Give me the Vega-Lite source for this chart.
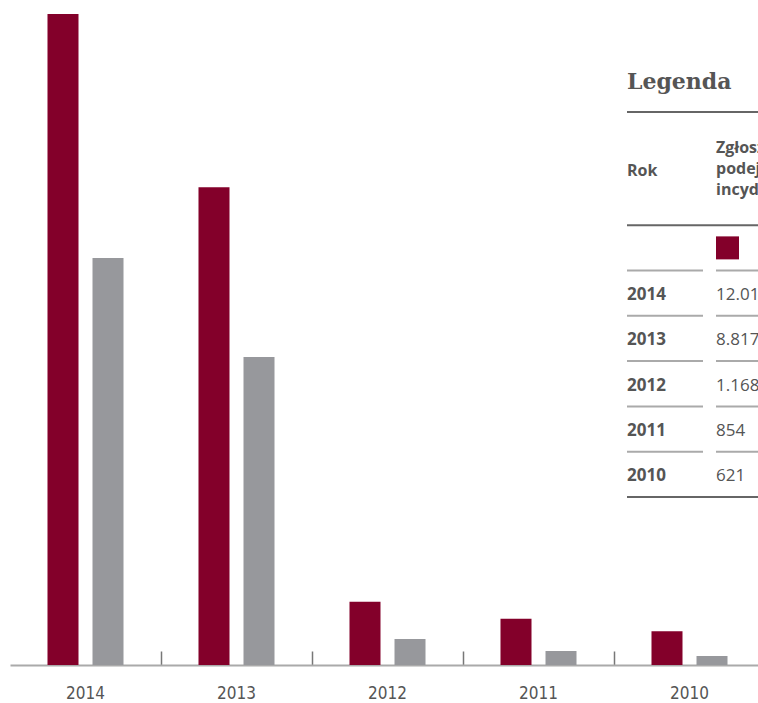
{
  "$schema": "https://vega.github.io/schema/vega-lite/v6.json",
  "width": 748,
  "height": 651,
  "autosize": {"type": "none"},
  "padding": {"left": 10, "top": 14, "right": 0, "bottom": 38},
  "background": "white",
  "config": {"view": {"stroke": null}},
  "datasets": {
    "bars": [
      {"year": "2014", "series": "Zgłoszenia podejrzanych incydentów", "value": 12014},
      {"year": "2014", "series": "Druga seria", "value": 7511},
      {"year": "2013", "series": "Zgłoszenia podejrzanych incydentów", "value": 8817},
      {"year": "2013", "series": "Druga seria", "value": 5684},
      {"year": "2012", "series": "Zgłoszenia podejrzanych incydentów", "value": 1168},
      {"year": "2012", "series": "Druga seria", "value": 480},
      {"year": "2011", "series": "Zgłoszenia podejrzanych incydentów", "value": 854},
      {"year": "2011", "series": "Druga seria", "value": 258},
      {"year": "2010", "series": "Zgłoszenia podejrzanych incydentów", "value": 621},
      {"year": "2010", "series": "Druga seria", "value": 166}
    ],
    "cells": [
      {"col": "Rok", "row": "title", "text": "Legenda", "role": "title"},
      {"col": "Rok", "row": "hdr", "text": "Rok", "role": "head"},
      {"col": "Zgł", "row": "hB", "text": "Zgłoszenia\npodejrzanych\nincydentów", "role": "head"},
      {"col": "Rok", "row": "2014", "text": "2014", "role": "year"},
      {"col": "Zgł", "row": "2014", "text": "12.014", "role": "num"},
      {"col": "Rok", "row": "2013", "text": "2013", "role": "year"},
      {"col": "Zgł", "row": "2013", "text": "8.817", "role": "num"},
      {"col": "Rok", "row": "2012", "text": "2012", "role": "year"},
      {"col": "Zgł", "row": "2012", "text": "1.168", "role": "num"},
      {"col": "Rok", "row": "2011", "text": "2011", "role": "year"},
      {"col": "Zgł", "row": "2011", "text": "854", "role": "num"},
      {"col": "Rok", "row": "2010", "text": "2010", "role": "year"},
      {"col": "Zgł", "row": "2010", "text": "621", "role": "num"}
    ],
    "borders": [
      {"col": "Rok", "row": "rule1"}, {"col": "Zgł", "row": "rule1"},
      {"col": "Rok", "row": "rule2"}, {"col": "Zgł", "row": "rule2"},
      {"col": "Rok", "row": "rule3"}, {"col": "Zgł", "row": "rule3"}
    ],
    "separators": [
      {"col": "Rok", "row": "r_sw"}, {"col": "Zgł", "row": "r_sw"},
      {"col": "Rok", "row": "r_2014"}, {"col": "Zgł", "row": "r_2014"},
      {"col": "Rok", "row": "r_2013"}, {"col": "Zgł", "row": "r_2013"},
      {"col": "Rok", "row": "r_2012"}, {"col": "Zgł", "row": "r_2012"},
      {"col": "Rok", "row": "r_2011"}, {"col": "Zgł", "row": "r_2011"}
    ],
    "swatches": [
      {"col": "Zgł", "row": "sw", "series": "Zgłoszenia podejrzanych incydentów"}
    ]
  },
  "layer": [
    {
      "data": {"name": "bars"},
      "mark": {"type": "bar"},
      "encoding": {
        "x": {
          "field": "year", "type": "nominal",
          "sort": ["2014", "2013", "2012", "2011", "2010"],
          "scale": {"type": "band", "paddingInner": 0, "paddingOuter": 0, "range": [0, 755]},
          "axis": {
            "title": null,
            "labelAngle": 0,
            "labelFont": "DejaVu Sans Condensed, Liberation Sans Narrow, DejaVu Sans, sans-serif",
            "labelFontSize": 17,
            "labelColor": "#555555",
            "labelPadding": 34,
            "domainColor": "#aaaaaa",
            "domainWidth": 2,
            "bandPosition": 0,
            "tickSize": -14,
            "tickWidth": 1.5,
            "tickColor": {"condition": {"test": "datum.value === '2014'", "value": "transparent"}, "value": "#777777"}
          }
        },
        "xOffset": {
          "field": "series", "type": "nominal",
          "sort": ["Zgłoszenia podejrzanych incydentów", "Druga seria"],
          "scale": {"paddingInner": 0.311, "paddingOuter": 0.833}
        },
        "y": {
          "field": "value", "type": "quantitative",
          "scale": {"domain": [0, 12014], "nice": false, "zero": true},
          "axis": null
        },
        "color": {
          "field": "series", "type": "nominal",
          "scale": {"domain": ["Zgłoszenia podejrzanych incydentów", "Druga seria"], "range": ["#83002a", "#97989c"]},
          "legend": null
        }
      }
    },
    {
      "encoding": {
        "x": {
          "field": "col", "type": "nominal",
          "scale": {"type": "band", "domain": ["Rok", "Zgł"], "range": [617, 795], "paddingInner": 0, "paddingOuter": 0},
          "axis": null
        },
        "y": {
          "field": "row", "type": "nominal",
          "scale": {
            "type": "point",
            "domain": ["title", "rule1", "hA", "hB", "hdr", "hD", "rule2", "sw", "r_sw", "2014", "r_2014", "2013", "r_2013", "2012", "r_2012", "2011", "r_2011", "2010", "rule3"],
            "range": [75.35, 483],
            "padding": 0
          },
          "axis": null
        }
      },
      "layer": [
        {
          "data": {"name": "borders"},
          "mark": {"type": "tick", "orient": "horizontal", "size": 89, "thickness": 2, "color": "#666666", "opacity": 1}
        },
        {
          "data": {"name": "separators"},
          "mark": {"type": "tick", "orient": "horizontal", "size": 76, "thickness": 2, "color": "#aaaaaa", "opacity": 1, "xOffset": -6.5}
        },
        {
          "data": {"name": "swatches"},
          "mark": {"type": "square", "size": 529, "filled": true, "opacity": 1, "xOffset": 11.5},
          "encoding": {
            "x": {"field": "col", "type": "nominal", "bandPosition": 0},
            "color": {"field": "series", "type": "nominal", "legend": null}
          }
        },
        {
          "data": {"name": "cells"},
          "transform": [{"filter": "datum.role === 'title'"}],
          "mark": {"type": "text", "align": "left", "baseline": "alphabetic", "font": "DejaVu Serif", "fontWeight": "bold", "fontSize": 22, "color": "#555555"},
          "encoding": {
            "x": {"field": "col", "type": "nominal", "bandPosition": 0},
            "text": {"field": "text"}
          }
        },
        {
          "data": {"name": "cells"},
          "transform": [{"filter": "datum.role === 'head'"}],
          "mark": {"type": "text", "align": "left", "baseline": "middle", "lineBreak": "\n", "lineHeight": 21, "dy": -9, "font": "Open Sans", "fontWeight": "bold", "fontSize": 16, "color": "#555555"},
          "encoding": {
            "x": {"field": "col", "type": "nominal", "bandPosition": 0},
            "text": {"field": "text"}
          }
        },
        {
          "data": {"name": "cells"},
          "transform": [{"filter": "datum.role === 'year'"}],
          "mark": {"type": "text", "align": "left", "baseline": "middle", "dy": 2, "font": "Open Sans", "fontWeight": "bold", "fontSize": 17, "color": "#555555"},
          "encoding": {
            "x": {"field": "col", "type": "nominal", "bandPosition": 0},
            "text": {"field": "text"}
          }
        },
        {
          "data": {"name": "cells"},
          "transform": [{"filter": "datum.role === 'num'"}],
          "mark": {"type": "text", "align": "left", "baseline": "middle", "dy": 2, "font": "Open Sans", "fontWeight": "normal", "fontSize": 17, "color": "#555555"},
          "encoding": {
            "x": {"field": "col", "type": "nominal", "bandPosition": 0},
            "text": {"field": "text"}
          }
        }
      ]
    }
  ],
  "resolve": {"scale": {"x": "independent", "y": "independent"}, "axis": {"x": "independent", "y": "independent"}}
}
